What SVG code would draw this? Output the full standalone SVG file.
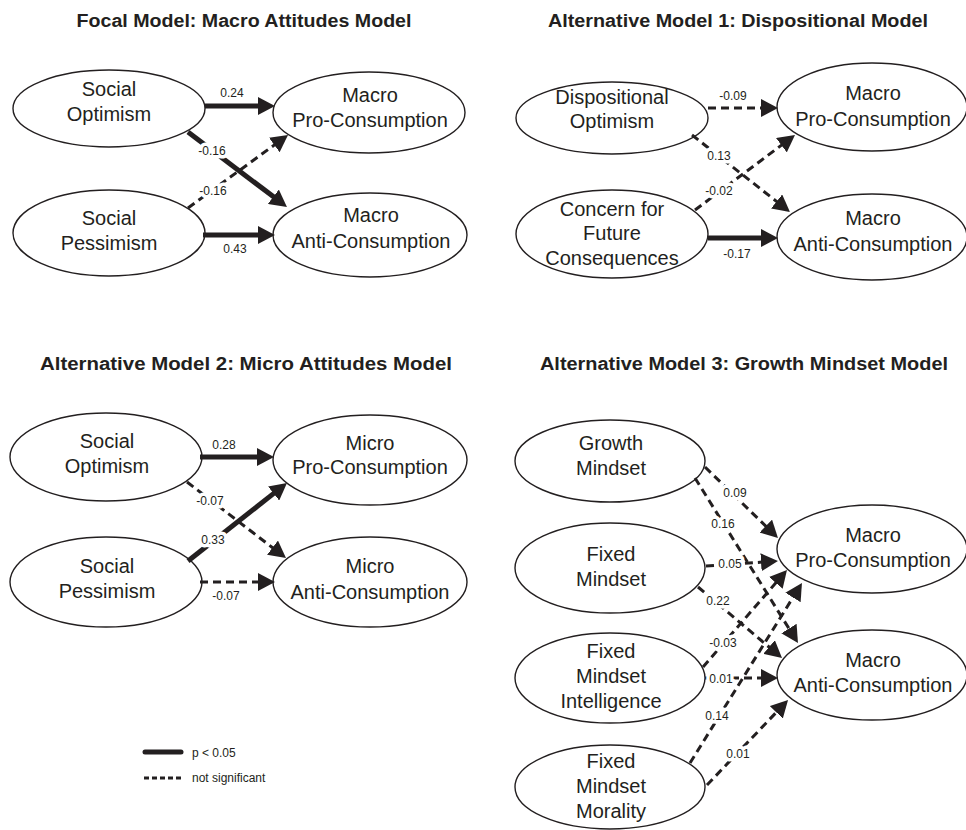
<svg xmlns="http://www.w3.org/2000/svg" width="966" height="830" viewBox="0 0 966 830">
<style>
.bg{fill:#fff}
.title{font-family:"Liberation Sans",Arial,sans-serif;font-weight:bold;font-size:18px;fill:#231f20;text-anchor:middle}
.node ellipse{fill:#fff;stroke:#231f20;stroke-width:1.4}
.node text{font-family:"Liberation Sans",Arial,sans-serif;font-size:20px;fill:#231f20;text-anchor:middle}
.sig{stroke:#231f20;stroke-width:5;fill:none;marker-end:url(#ah)}
.ns{stroke:#231f20;stroke-width:3;fill:none;stroke-dasharray:8 5;marker-end:url(#ah)}
.lbl{font-family:"Liberation Sans",Arial,sans-serif;font-size:12px;fill:#231f20;text-anchor:middle;stroke:#fff;stroke-width:7;paint-order:stroke;stroke-linejoin:round}
.leg{font-family:"Liberation Sans",Arial,sans-serif;font-size:12px;fill:#231f20}
</style>
<defs>
<marker id="ah" markerUnits="userSpaceOnUse" markerWidth="18" markerHeight="18" refX="1" refY="9" orient="auto">
<path d="M0,0 L17,9 L0,18 z" fill="#231f20"/>
</marker>
</defs>
<rect class="bg" x="0" y="0" width="966" height="830"/>

<g id="titles">
<text class="title" x="244" y="27" textLength="335" lengthAdjust="spacingAndGlyphs">Focal Model: Macro Attitudes Model</text>
<text class="title" x="738" y="27" textLength="380" lengthAdjust="spacingAndGlyphs">Alternative Model 1: Dispositional Model</text>
<text class="title" x="246" y="370" textLength="412" lengthAdjust="spacingAndGlyphs">Alternative Model 2: Micro Attitudes Model</text>
<text class="title" x="744" y="370" textLength="408" lengthAdjust="spacingAndGlyphs">Alternative Model 3: Growth Mindset Model</text>
</g>

<!-- Focal model nodes -->
<g id="f-social-optimism" class="node"><ellipse cx="109" cy="108.5" rx="96" ry="38.5"/><text x="109" y="96">Social</text><text x="109" y="121">Optimism</text></g>
<g id="f-social-pessimism" class="node"><ellipse cx="109" cy="233" rx="96" ry="43"/><text x="109" y="225">Social</text><text x="109" y="250">Pessimism</text></g>
<g id="f-macro-pro" class="node"><ellipse cx="369" cy="112.5" rx="96" ry="40.5"/><text x="370" y="102">Macro</text><text x="370" y="127">Pro-Consumption</text></g>
<g id="f-macro-anti" class="node"><ellipse cx="370" cy="235" rx="97" ry="42"/><text x="371" y="222">Macro</text><text x="371" y="248">Anti-Consumption</text></g>

<!-- Alt 1 nodes -->
<g id="a1-dispositional-optimism" class="node"><ellipse cx="612" cy="118" rx="96" ry="36"/><text x="612" y="104">Dispositional</text><text x="612" y="128">Optimism</text></g>
<g id="a1-cfc" class="node"><ellipse cx="612" cy="234" rx="96" ry="44"/><text x="612" y="216">Concern for</text><text x="612" y="240">Future</text><text x="612" y="265">Consequences</text></g>
<g id="a1-macro-pro" class="node"><ellipse cx="872" cy="107" rx="95" ry="44"/><text x="873" y="100">Macro</text><text x="873" y="126">Pro-Consumption</text></g>
<g id="a1-macro-anti" class="node"><ellipse cx="872" cy="237" rx="95" ry="43"/><text x="873" y="225">Macro</text><text x="873" y="251">Anti-Consumption</text></g>

<!-- Alt 2 nodes -->
<g id="a2-social-optimism" class="node"><ellipse cx="106" cy="457" rx="96" ry="44"/><text x="107" y="448">Social</text><text x="107" y="473">Optimism</text></g>
<g id="a2-social-pessimism" class="node"><ellipse cx="106" cy="582" rx="96" ry="45"/><text x="107" y="573">Social</text><text x="107" y="598">Pessimism</text></g>
<g id="a2-micro-pro" class="node"><ellipse cx="370" cy="460" rx="97" ry="45"/><text x="370" y="450">Micro</text><text x="370" y="474">Pro-Consumption</text></g>
<g id="a2-micro-anti" class="node"><ellipse cx="370" cy="582" rx="97" ry="45"/><text x="370" y="573">Micro</text><text x="370" y="599">Anti-Consumption</text></g>

<!-- Alt 3 nodes -->
<g id="a3-growth-mindset" class="node"><ellipse cx="610" cy="461" rx="95" ry="41"/><text x="611" y="450">Growth</text><text x="611" y="475">Mindset</text></g>
<g id="a3-fixed-mindset" class="node"><ellipse cx="610" cy="568" rx="95" ry="45"/><text x="611" y="561">Fixed</text><text x="611" y="586">Mindset</text></g>
<g id="a3-fixed-intelligence" class="node"><ellipse cx="610" cy="678" rx="95" ry="45"/><text x="611" y="658">Fixed</text><text x="611" y="683">Mindset</text><text x="611" y="708">Intelligence</text></g>
<g id="a3-fixed-morality" class="node"><ellipse cx="610" cy="787" rx="95" ry="42"/><text x="611" y="768">Fixed</text><text x="611" y="793">Mindset</text><text x="611" y="818">Morality</text></g>
<g id="a3-macro-pro" class="node"><ellipse cx="872" cy="549" rx="95" ry="44"/><text x="873" y="542">Macro</text><text x="873" y="567">Pro-Consumption</text></g>
<g id="a3-macro-anti" class="node"><ellipse cx="872" cy="675" rx="95" ry="45"/><text x="873" y="667">Macro</text><text x="873" y="692">Anti-Consumption</text></g>

<g id="connectors">
<!-- Focal -->
<path class="sig" d="M205,106 L259,106"/>
<path class="sig" d="M188,132 L274.2,197.3"/>
<path class="ns" d="M188,208 L275.1,144.4"/>
<path class="sig" d="M203,235 L259,235"/>
<!-- Alt 1 -->
<path class="ns" d="M708,108 L762,108"/>
<path class="ns" d="M692,135 L777.4,202.1"/>
<path class="ns" d="M695,210 L782.2,144.6"/>
<path class="sig" d="M708,238 L762,238"/>
<!-- Alt 2 -->
<path class="sig" d="M200,457 L258,457"/>
<path class="ns" d="M187,482 L273.3,548.3"/>
<path class="sig" d="M188,561 L274.4,492.9"/>
<path class="ns" d="M200,582 L259,582"/>
<!-- Alt 3 -->
<path class="ns" d="M705,467 L766.5,526.8"/>
<path class="ns" d="M695,478 L789.5,629.4"/>
<path class="ns" d="M706,566 L762,562.1"/>
<path class="ns" d="M698,587 L769.8,647.7"/>
<path class="ns" d="M703,667 L776.5,582.1"/>
<path class="ns" d="M705,678 L762,678"/>
<path class="ns" d="M690,763 L793.5,596.6"/>
<path class="ns" d="M707,785 L777,711.6"/>

<!-- labels -->
<text class="lbl" x="232" y="97">0.24</text>
<text class="lbl" x="212" y="155">-0.16</text>
<text class="lbl" x="213" y="195">-0.16</text>
<text class="lbl" x="235" y="253">0.43</text>

<text class="lbl" x="733" y="100">-0.09</text>
<text class="lbl" x="719" y="160">0.13</text>
<text class="lbl" x="719" y="195">-0.02</text>
<text class="lbl" x="737" y="258">-0.17</text>

<text class="lbl" x="224" y="449">0.28</text>
<text class="lbl" x="210" y="505">-0.07</text>
<text class="lbl" x="213" y="544">0.33</text>
<text class="lbl" x="226" y="600">-0.07</text>

<text class="lbl" x="735" y="497">0.09</text>
<text class="lbl" x="723" y="528">0.16</text>
<text class="lbl" x="730" y="568">0.05</text>
<text class="lbl" x="718" y="605">0.22</text>
<text class="lbl" x="723" y="647">-0.03</text>
<text class="lbl" x="721" y="683">0.01</text>
<text class="lbl" x="717" y="720">0.14</text>
<text class="lbl" x="738" y="758">0.01</text>
</g>

<g id="legend">
<line x1="145" y1="752" x2="181" y2="752" stroke="#231f20" stroke-width="5" stroke-linecap="round"/>
<line x1="144" y1="778" x2="183" y2="778" stroke="#231f20" stroke-width="3" stroke-dasharray="5 3"/>
<text class="leg" x="192" y="757">p &lt; 0.05</text>
<text class="leg" x="192" y="782">not significant</text>
</g>
</svg>
